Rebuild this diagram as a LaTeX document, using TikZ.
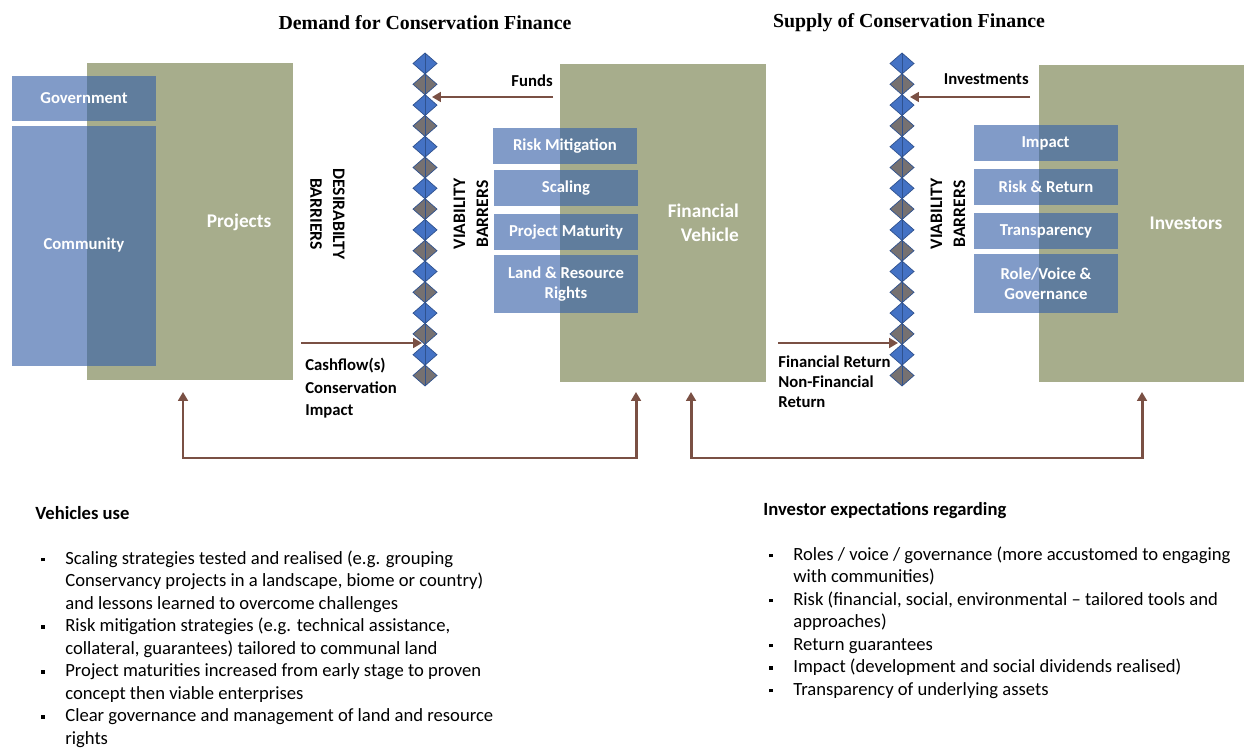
\documentclass[tikz,border=0pt]{standalone}
\usepackage{fontspec}
\setmainfont{Carlito}
\newfontfamily\titlefont{Liberation Serif}
\usepackage{xcolor}
\usepackage{tikz}
\usetikzlibrary{shapes.geometric,arrows.meta}
\definecolor{olive}{HTML}{A7AD8C}
\definecolor{tile}{HTML}{3861A8}
\definecolor{flowc}{HTML}{7A5044}
\definecolor{gblue}{HTML}{4472C4}
\definecolor{ggray}{HTML}{767171}
\definecolor{gline}{HTML}{2F528F}
\newcommand{\blt}{\hspace*{1.2mm}\rule[0.3ex]{0.75mm}{0.75mm}}
\tikzset{
  gbox/.style={fill=olive, draw=none, inner sep=0pt, outer sep=0pt},
  bbox/.style={fill=tile, fill opacity=0.63, text opacity=1, text=white, inner sep=0pt,
    font=\fontsize{9.5}{11.5}\selectfont\bfseries, align=center, minimum width=28.8mm},
  biglab/.style={text=white, font=\fontsize{11}{13.5}\selectfont\bfseries},
  flow/.style={draw=flowc, line width=1.7pt, -{Triangle[length=5pt,width=5.5pt]}},
  twoway/.style={draw=flowc, line width=1.7pt, {Triangle[length=5pt,width=5.5pt]}-{Triangle[length=5pt,width=5.5pt]}},
  lab/.style={font=\fontsize{9.5}{12.8}\selectfont\bfseries, inner sep=0pt, align=left},
  bar/.style={font=\fontsize{10}{13}\selectfont\bfseries, inner sep=0pt, align=center},
  head/.style={font=\titlefont\fontsize{11.3}{13}\selectfont\bfseries, inner sep=0pt},
  gem/.style={diamond, draw=gline, line width=0.4pt, inner sep=0pt, outer sep=0pt,
    minimum width=4.8mm, minimum height=4.2mm},
  txt/.style={font=\fontsize{10.6}{12.8}\selectfont, inner sep=0pt},
}

\begin{document}
\begin{tikzpicture}[x=0.2mm, y=-0.2mm]
  \useasboundingbox (0,0) rectangle (1244,749);

  % titles
  \node[head] (dem) at (425,23) {Demand for Conservation Finance};
  \node[head] (sup) at (909,23) {Supply of Conservation Finance};

  % green blocks
  \node[gbox, minimum width=41.2mm, minimum height=63.4mm] (pj) at (190,221.5) {};
  \node[gbox, minimum width=41.2mm, minimum height=63.6mm] (fv) at (663,223) {};
  \node[gbox, minimum width=41mm, minimum height=63.4mm] (inv) at (1141.5,223.5) {};

  % blue tiles
  \node[bbox, minimum height=9mm] (gov) at (84,98.5) {Government};
  \node[bbox, minimum height=48mm] (com) at (84,246) {\raisebox{1mm}{Community}};
  \node[bbox, minimum height=7.2mm] (rm) at (565,146) {Risk Mitigation};
  \node[bbox, minimum height=7.2mm] (sc) at (566,188.5) {Scaling};
  \node[bbox, minimum height=7.2mm] (pm) at (566,232) {Project Maturity};
  \node[bbox, minimum height=11.6mm] (lr) at (566,284) {Land \& Resource\\Rights};
  \node[bbox, minimum height=7.2mm] (im) at (1045.5,143) {Impact};
  \node[bbox, minimum height=7.2mm] (rr) at (1046,187) {Risk \& Return};
  \node[bbox, minimum height=7.2mm] (tr) at (1046,231) {Transparency};
  \node[bbox, minimum height=11.8mm] (rv) at (1046,283.5) {Role/Voice \&\\Governance};

  \node[biglab] (pjl) at (239,222) {Projects};
  \node[biglab, align=right, anchor=east] (fvl) at (745,223) {Financial\\Vehicle};
  \node[biglab] (invl) at (1186,223) {Investors};

  % barrier columns
  \foreach \i [evaluate=\i as \yy using 63.5+20.8*\i] in {0,...,15}{
    \ifodd\i \def\gc{ggray}\else\def\gc{gblue}\fi
    \node[gem, fill=\gc] (L\i) at (425,\yy) {};
    \draw[gline, line width=0.5pt] (L\i.north) -- (L\i.south);
    \node[gem, fill=\gc] (R\i) at (902,\yy) {};
    \draw[gline, line width=0.5pt] (R\i.north) -- (R\i.south);
  }

  \node[bar, rotate=-90] (desb) at (327.5,214) {DESIRABILTY\\BARRIERS};
  \node[bar, rotate=90] (vbl) at (471,214) {VIABILITY\\BARRERS};
  \node[bar, rotate=90] (vbr) at (948,214) {VIABILITY\\BARRERS};

  % flows
  \node[lab, anchor=east] (funds) at (553,81) {Funds};
  \node[lab, anchor=east] (invs) at (1029,79) {Investments};
  \coordinate (fundsA) at (553,97);
  \coordinate (fundsB) at (432,97);
  \coordinate (invsA) at (1030,97);
  \coordinate (invsB) at (910,97);
  \draw[flow] (fundsA) -- (fundsB);
  \draw[flow] (invsA) -- (invsB);

  \coordinate (cashA) at (301,343);
  \coordinate (cashB) at (422,343);
  \coordinate (retA) at (778,343);
  \coordinate (retB) at (898,343);
  \draw[flow] (cashA) -- (cashB);
  \draw[flow] (retA) -- (retB);
  \node[lab, anchor=north west] (cash) at (305,358) {Cashflow(s)\\Conservation\\Impact};
  \node[lab, anchor=north west, font=\fontsize{9.5}{11.6}\selectfont\bfseries] (ret) at (778,355) {Financial Return\\Non-Financial\\Return};

  % feedback loops
  \coordinate (pjIn) at (183,392);
  \coordinate (fvIn) at (636,392);
  \coordinate (fvOut) at (691,392);
  \coordinate (invIn) at (1142,392);
  \draw[twoway] (pjIn) -- ++(0,66) -| (fvIn);
  \draw[twoway] (fvOut) -- ++(0,66) -| (invIn);

  % notes
  \node[txt, anchor=north west] (veh) at (35,503) {%
    \begin{tabular}{@{}p{6mm}@{}l@{}}
      \multicolumn{2}{@{}l@{}}{\bfseries Vehicles use}\\
      \\
      \blt & Scaling strategies tested and realised (e.g. grouping\\
           & Conservancy projects in a landscape, biome or country)\\
           & and lessons learned to overcome challenges\\
      \blt & Risk mitigation strategies (e.g. technical assistance,\\
           & collateral, guarantees) tailored to communal land\\
      \blt & Project maturities increased from early stage to proven\\
           & concept then viable enterprises\\
      \blt & Clear governance and management of land and resource\\
           & rights
    \end{tabular}};
  \node[txt, anchor=north west] (exp) at (763,499) {%
    \begin{tabular}{@{}p{6mm}@{}l@{}}
      \multicolumn{2}{@{}l@{}}{\bfseries Investor expectations regarding}\\
      \\
      \blt & Roles / voice / governance (more accustomed to engaging\\
           & with communities)\\
      \blt & Risk (financial, social, environmental -- tailored tools and\\
           & approaches)\\
      \blt & Return guarantees\\
      \blt & Impact (development and social dividends realised)\\
      \blt & Transparency of underlying assets
    \end{tabular}};
\end{tikzpicture}
\end{document}
